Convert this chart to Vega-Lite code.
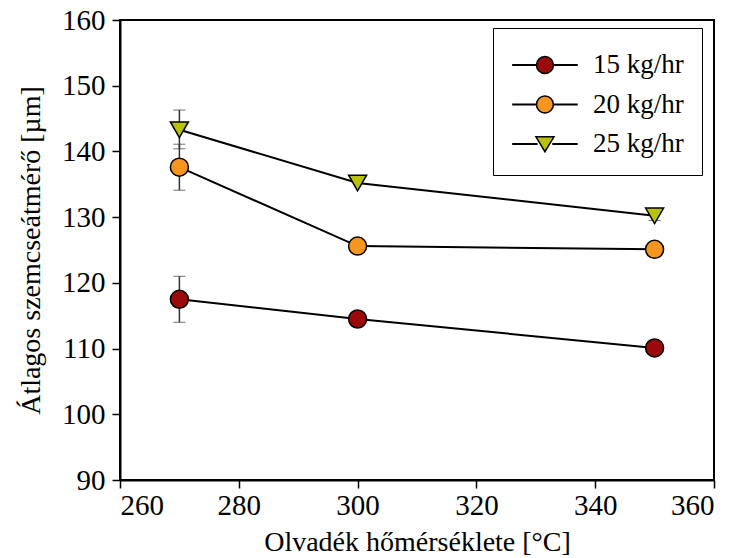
{
  "$schema": "https://vega.github.io/schema/vega-lite/v6.json",
  "autosize": "none",
  "width": 594,
  "height": 460,
  "padding": {"left": 120, "top": 20, "right": 23, "bottom": 78},
  "background": "white",
  "config": {
    "view": {"stroke": "black", "strokeWidth": 2},
    "font": "Liberation Serif"
  },
  "data": {
    "values": [
      {"series": "15 kg/hr", "x": 270, "y": 117.5, "lo": 114, "hi": 121},
      {"series": "15 kg/hr", "x": 300, "y": 114.5},
      {"series": "15 kg/hr", "x": 350, "y": 110.1},
      {"series": "20 kg/hr", "x": 270, "y": 137.6, "lo": 134.1, "hi": 141.1},
      {"series": "20 kg/hr", "x": 300, "y": 125.6},
      {"series": "20 kg/hr", "x": 350, "y": 125.1, "lo": 124.4, "hi": 125.8},
      {"series": "25 kg/hr", "x": 270, "y": 143.3, "lo": 140.4, "hi": 146.3},
      {"series": "25 kg/hr", "x": 300, "y": 135.2},
      {"series": "25 kg/hr", "x": 350, "y": 130.2, "lo": 129.5, "hi": 130.9}
    ]
  },
  "encoding": {
    "x": {
      "field": "x", "type": "quantitative",
      "scale": {"domain": [260, 360], "nice": false, "zero": false},
      "axis": {
        "values": [260, 280, 300, 320, 340, 360], "title": "Olvadék hőmérséklete [°C]",
        "grid": false, "domainColor": "black", "domainWidth": 2, "tickColor": "black", "tickWidth": 1.5, "tickSize": 8,
        "labelFont": "Liberation Serif", "labelFontSize": 29, "labelColor": "black", "labelPadding": 3,
        "titleFont": "Liberation Serif", "titleFontSize": 28, "titleFontWeight": "normal", "titleColor": "black", "titlePadding": 8
      }
    },
    "y": {
      "field": "y", "type": "quantitative",
      "scale": {"domain": [90, 160], "nice": false, "zero": false},
      "axis": {
        "values": [90, 100, 110, 120, 130, 140, 150, 160], "title": "Átlagos szemcseátmérő [µm]",
        "grid": false, "domainColor": "black", "domainWidth": 2, "tickColor": "black", "tickWidth": 1.5, "tickSize": 8,
        "labelFont": "Liberation Serif", "labelFontSize": 29, "labelColor": "black", "labelPadding": 7,
        "titleFont": "Liberation Serif", "titleFontSize": 28, "titleFontWeight": "normal", "titleColor": "black", "titlePadding": 16
      }
    }
  },
  "layer": [
    {
      "transform": [{"filter": "isValid(datum.lo)"}],
      "mark": {"type": "errorbar", "ticks": {"size": 12, "color": "#333", "strokeWidth": 1.5}, "rule": {"color": "#333", "strokeWidth": 1.5}},
      "encoding": {
        "y": {"field": "lo", "type": "quantitative"},
        "y2": {"field": "hi"}
      }
    },
    {
      "mark": {"type": "line", "color": "black", "strokeWidth": 2},
      "encoding": {"detail": {"field": "series"}}
    },
    {
      "transform": [{"filter": "datum.series != '25 kg/hr'"}],
      "mark": {"type": "point", "shape": "circle", "filled": true, "opacity": 1, "size": 324, "stroke": "black", "strokeWidth": 1.5},
      "encoding": {
        "color": {
          "field": "series", "type": "nominal",
          "scale": {"domain": ["15 kg/hr", "20 kg/hr", "25 kg/hr"], "range": ["#9a0a0a", "#f7961e", "#b8c20a"]},
          "legend": {
            "title": null,
            "orient": "none",
            "legendX": 373,
            "legendY": 8,
            "padding": 18,
            "strokeColor": "black",
            "fillColor": "white",
            "symbolSize": 1296,
            "symbolStrokeWidth": 1.5,
            "symbolStrokeColor": "black",
            "labelFont": "Liberation Serif",
            "labelFontSize": 27,
            "labelColor": "black",
            "labelOffset": 44,
            "rowPadding": 7.5,
            "encoding": {
              "symbols": {
                "shape": {"value": {"expr": "datum.value == '25 kg/hr' ? 'M-0.95,-0.01L0.38,-0.01L0.38,0.01L-0.95,0.01Z M1.28,-0.01L2.61,-0.01L2.61,0.01L1.28,0.01Z M0.33,-0.4L1.33,-0.4L0.83,0.43Z' : 'M-0.95,-0.01L0.36,-0.01L0.36,0.01L-0.95,0.01Z M1.3,-0.01L2.61,-0.01L2.61,0.01L1.3,0.01Z M1.3,0A0.47,0.47,0,1,1,0.36,0A0.47,0.47,0,1,1,1.3,0Z'"}},
                "stroke": {"value": "black"},
                "strokeWidth": {"value": 1.5},
                "opacity": {"value": 1}
              }
            }
          }
        }
      }
    },
    {
      "transform": [{"filter": "datum.series == '25 kg/hr'"}],
      "mark": {"type": "point", "shape": "triangle-down", "filled": true, "opacity": 1, "size": 324, "stroke": "black", "strokeWidth": 1.5},
      "encoding": {
        "color": {"field": "series", "type": "nominal"}
      }
    }
  ]
}
